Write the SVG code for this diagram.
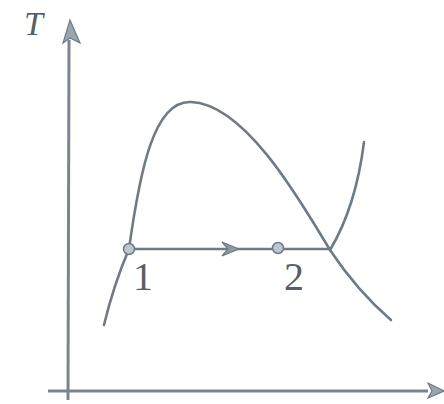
<svg xmlns="http://www.w3.org/2000/svg" width="444" height="404" viewBox="0 0 444 404">
<style>
.ln{fill:none;stroke:#6e7b87;stroke-width:2.6;stroke-linecap:round}
.ax{fill:none;stroke:#7a8590;stroke-width:3}
.pt{fill:#bcc6ce;stroke:#6e7b87;stroke-width:1.5}
.lb{font-family:"Liberation Serif","DejaVu Serif",serif;fill:#555f68}
.ah{fill:#9aa5ae;stroke:#6e7b87;stroke-width:1.2}
</style>
<rect width="444" height="404" fill="#ffffff"/>
<g id="axes">
<line class="ax" x1="69" y1="40" x2="68" y2="400"/>
<path class="ah" d="M70,20 L80,43 L70,38 L63,43 Z"/>
<line class="ax" x1="48" y1="391" x2="428" y2="391"/>
<path class="ah" d="M444,391 L428,383 L432,391 L428,398 Z"/>
<text class="lb" x="24" y="35" font-size="34" font-style="italic">T</text>
</g>
<g id="connectors">
<path class="ln" d="M129,249 C 140,170 154,100 191,102 C 245,104 300,200 330,250 C 350,280 370,302 391,320"/>
<path class="ln" d="M104,325 C 110,300 120,270 129,249"/>
<path class="ln" d="M330,250 C 345,225 358,190 364,142"/>
<line class="ln" x1="129" y1="249" x2="330" y2="249"/>
<path fill="#8e99a3" stroke="#6e7b87" stroke-width="1.2" d="M239,249 L222,242 L228,249 L222,256 Z"/>
</g>
<g id="p1">
<circle class="pt" cx="129" cy="249" r="5.5"/>
<text class="lb" x="133" y="290" font-size="40">1</text>
</g>
<g id="p2">
<circle class="pt" cx="278" cy="248" r="5.5"/>
<text class="lb" x="284" y="290" font-size="40">2</text>
</g>
</svg>
